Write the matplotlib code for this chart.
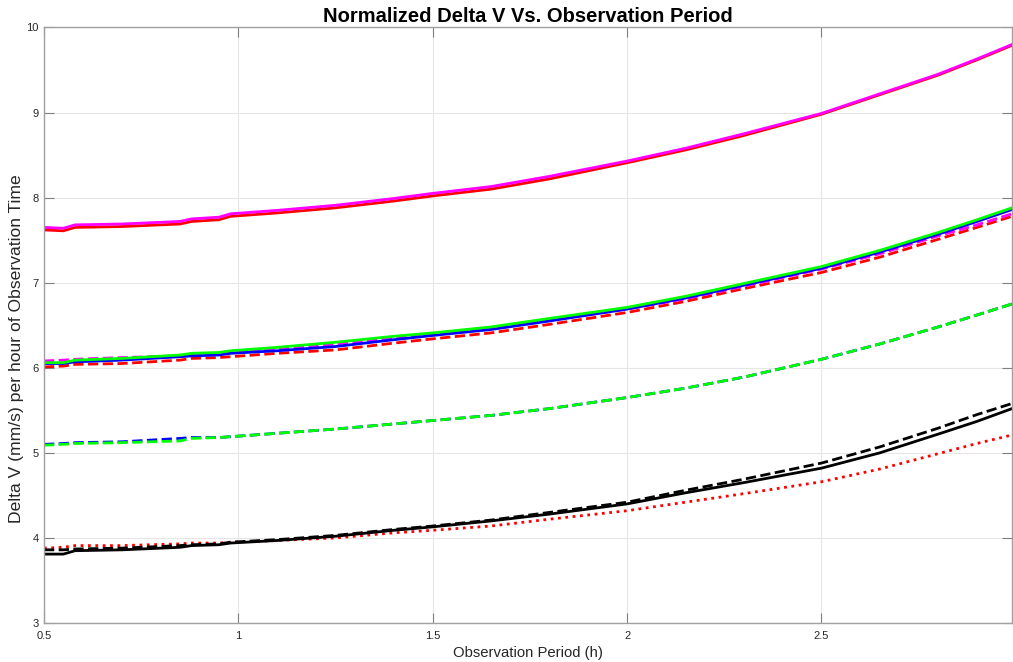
import matplotlib
matplotlib.use('Agg')
import matplotlib.pyplot as plt

# observation period (h)
period = [0.50, 0.55, 0.58, 0.70, 0.85, 0.88, 0.95, 0.98, 1.10, 1.25, 1.40,
          1.50, 1.65, 1.80, 2.00, 2.15, 2.30, 2.50, 2.65, 2.80, 2.90, 2.99]

# normalized delta V, one list per curve
magenta_solid = [7.65, 7.64, 7.68, 7.69, 7.72, 7.75, 7.77, 7.81, 7.85, 7.91, 7.99,
                 8.05, 8.13, 8.25, 8.43, 8.58, 8.75, 8.99, 9.22, 9.45, 9.63, 9.80]
red_solid = [7.62, 7.61, 7.65, 7.66, 7.69, 7.72, 7.74, 7.78, 7.82, 7.88, 7.96,
             8.02, 8.10, 8.22, 8.41, 8.56, 8.73, 8.98, 9.21, 9.44, 9.62, 9.79]
green_solid = [6.06, 6.06, 6.09, 6.11, 6.15, 6.17, 6.18, 6.20, 6.24, 6.30, 6.37,
               6.41, 6.48, 6.58, 6.71, 6.84, 6.99, 7.19, 7.38, 7.59, 7.74, 7.88]
blue_solid = [6.05, 6.05, 6.07, 6.09, 6.13, 6.14, 6.15, 6.17, 6.20, 6.25, 6.33,
              6.38, 6.45, 6.55, 6.69, 6.82, 6.97, 7.17, 7.36, 7.57, 7.72, 7.86]
magenta_dash = [6.08, 6.09, 6.10, 6.12, 6.14, 6.16, 6.17, 6.19, 6.22, 6.28, 6.35,
                6.39, 6.46, 6.56, 6.69, 6.81, 6.96, 7.16, 7.34, 7.55, 7.68, 7.81]
red_dash = [6.01, 6.02, 6.04, 6.05, 6.09, 6.11, 6.12, 6.13, 6.17, 6.21, 6.29,
            6.34, 6.41, 6.51, 6.65, 6.78, 6.93, 7.12, 7.30, 7.51, 7.65, 7.78]
blue_dash = [5.10, 5.11, 5.12, 5.13, 5.17, 5.18, 5.18, 5.19, 5.23, 5.28, 5.34,
             5.38, 5.44, 5.52, 5.65, 5.76, 5.89, 6.10, 6.28, 6.48, 6.62, 6.75]
green_dash = [5.09, 5.10, 5.11, 5.12, 5.14, 5.17, 5.18, 5.19, 5.23, 5.28, 5.34,
              5.38, 5.44, 5.52, 5.65, 5.76, 5.89, 6.10, 6.28, 6.48, 6.62, 6.75]
black_solid = [3.81, 3.81, 3.85, 3.86, 3.89, 3.91, 3.92, 3.94, 3.97, 4.02, 4.09,
               4.13, 4.20, 4.28, 4.40, 4.53, 4.65, 4.82, 5.00, 5.22, 5.37, 5.52]
black_dash = [3.86, 3.86, 3.87, 3.88, 3.91, 3.92, 3.93, 3.95, 3.98, 4.03, 4.10,
              4.14, 4.21, 4.30, 4.42, 4.56, 4.69, 4.88, 5.07, 5.29, 5.45, 5.58]
red_dot = [3.88, 3.89, 3.91, 3.91, 3.93, 3.94, 3.94, 3.95, 3.97, 4.00, 4.06,
           4.09, 4.14, 4.22, 4.32, 4.42, 4.52, 4.66, 4.81, 4.99, 5.11, 5.21]

xticks = [0.5, 1, 1.5, 2, 2.5]
xtick_labels = ['0.5', '1', '1.5', '2', '2.5']
yticks = [3, 4, 5, 6, 7, 8, 9, 10]

plt.rcParams['font.family'] = ['Liberation Sans', 'DejaVu Sans']

fig = plt.figure(figsize=(10.13, 6.62), dpi=100)
ax = fig.add_axes([0.0434, 0.0589, 0.9556, 0.8996])

MAG = '#ff00ff'
GRN = '#00ff00'
lw = 2.0
curves = [
    (red_solid, 'r', '-'),
    (magenta_solid, MAG, '-'),
    (red_dash, 'r', '--'),
    (magenta_dash, MAG, '--'),
    (blue_solid, 'b', '-'),
    (green_solid, GRN, '-'),
    (blue_dash, 'b', '--'),
    (green_dash, GRN, '--'),
    (red_dot, 'r', ':'),
    (black_solid, 'k', '-'),
    (black_dash, 'k', '--'),
]
for vals, col, ls in curves:
    ax.plot(period, vals, color=col, linestyle=ls, linewidth=lw)

ax.set_xlim(0.5, 2.99)
ax.set_ylim(3, 10)
ax.set_xticks(xticks)
ax.set_xticklabels(xtick_labels)
ax.set_yticks(yticks)
ax.grid(True, color='#e6e6e6', linewidth=0.8)
ax.set_axisbelow(True)

grey = '#262626'
for sp in ax.spines.values():
    sp.set_color('#a0a0a0')
    sp.set_linewidth(1.0)
ax.tick_params(direction='in', length=7, width=0.8, color='#808080',
               labelcolor=grey, labelsize=8, top=True, right=True)
ax.tick_params(axis='x', pad=6)
ax.tick_params(axis='y', pad=4)

ax.set_xlabel('Observation Period (h)', fontsize=10.7, color=grey)
ax.xaxis.set_label_coords(0.5, -0.038)
ax.set_ylabel('Delta V (mm/s) per hour of Observation Time', fontsize=12.6,
              color=grey)
ax.yaxis.set_label_coords(-0.0207, 0.46)
ax.set_title('Normalized Delta V Vs. Observation Period', fontsize=14.5,
             fontweight='bold', pad=4)

fig.savefig('out.png', dpi=100)
